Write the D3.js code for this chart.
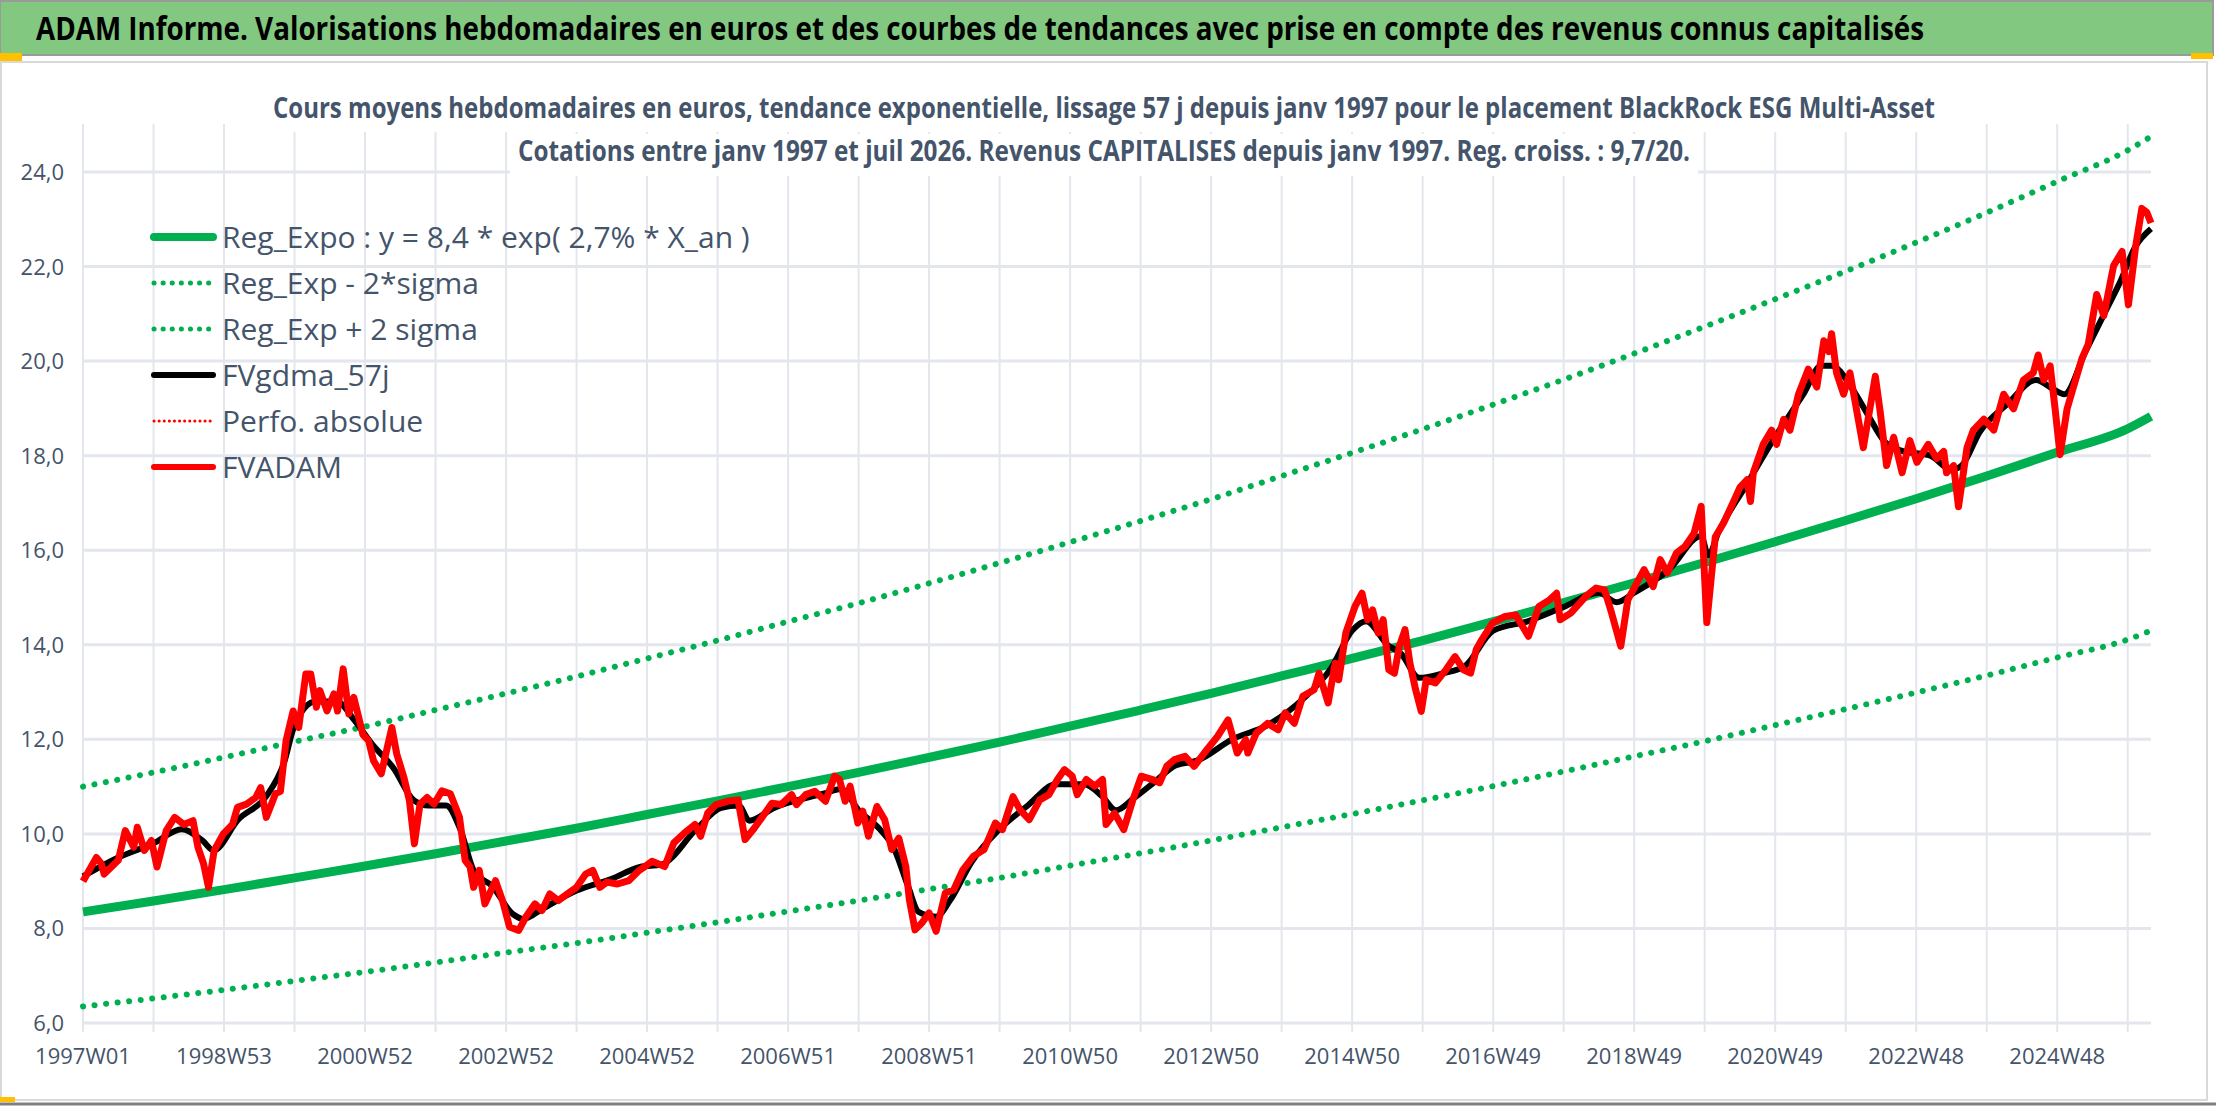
<!DOCTYPE html>
<html lang="fr">
<head>
<meta charset="utf-8">
<title>ADAM Informe</title>
<script src="https://cdn.jsdelivr.net/npm/d3@7"></script>
<style>
  body { margin: 0; background: #fff; }
  text { font-family: "Liberation Sans Narrow", "Open Sans", sans-serif; }
</style>
</head>
<body>
<script>
// x positions are decimal years, values in euros
var yTicks = [6, 8, 10, 12, 14, 16, 18, 20, 22, 24];
var xTickLabels = ["1997W01", "1998W53", "2000W52", "2002W52", "2004W52", "2006W51", "2008W51",
  "2010W50", "2012W50", "2014W50", "2016W49", "2018W49", "2020W49", "2022W48", "2024W48"];

var trendT = [1997, 1998, 1999, 2000, 2001, 2002, 2003, 2004, 2005, 2006, 2007, 2008, 2009, 2010, 2011,
  2012, 2013, 2014, 2015, 2016, 2017, 2018, 2019, 2020, 2021, 2022, 2023, 2024, 2025, 2026, 2026.33];
var regExpo = [8.35, 8.58, 8.82, 9.07, 9.32, 9.58, 9.85, 10.12, 10.41, 10.70, 11.00, 11.30, 11.62, 11.94, 12.28,
  12.62, 12.97, 13.34, 13.71, 14.09, 14.49, 14.89, 15.31, 15.74, 16.18, 16.63, 17.09, 17.57, 18.07, 18.57, 18.83];
var regHigh = [11.00, 11.30, 11.62, 11.95, 12.27, 12.62, 12.97, 13.33, 13.71, 14.09, 14.49, 14.88, 15.30, 15.73, 16.17,
  16.62, 17.08, 17.57, 18.06, 18.56, 19.08, 19.61, 20.16, 20.73, 21.31, 21.90, 22.51, 23.14, 23.80, 24.46, 24.75];
var regLow = [6.35, 6.52, 6.70, 6.89, 7.08, 7.28, 7.49, 7.69, 7.91, 8.13, 8.36, 8.59, 8.83, 9.07, 9.33,
  9.59, 9.86, 10.14, 10.42, 10.71, 11.01, 11.32, 11.64, 11.96, 12.30, 12.64, 12.99, 13.35, 13.73, 14.11, 14.30];

var fvgdmaT = [1997.0, 1997.5, 1998.0, 1998.4, 1998.7, 1998.85, 1999.2, 1999.6, 1999.85, 2000.0, 2000.3, 2000.6,
  2000.85, 2001.1, 2001.4, 2001.7, 2001.9, 2002.15, 2002.35, 2002.55, 2002.8, 2003.1, 2003.25, 2003.5, 2004.0,
  2004.5, 2004.9, 2005.2, 2005.7, 2006.05, 2006.3, 2006.45, 2006.8, 2007.5, 2007.75, 2008.0, 2008.3, 2008.5,
  2008.7, 2008.85, 2009.1, 2009.3, 2009.6, 2010.0, 2010.4, 2010.8, 2011.2, 2011.45, 2011.65, 2011.9, 2012.2,
  2012.5, 2012.8, 2013.3, 2013.8, 2014.3, 2014.7, 2015.0, 2015.2, 2015.5, 2015.7, 2015.95, 2016.3, 2016.6,
  2017.0, 2017.5, 2018.0, 2018.5, 2018.75, 2019.0, 2019.5, 2019.95, 2020.05, 2020.2, 2020.6, 2021.0, 2021.4,
  2021.65, 2021.8, 2022.1, 2022.3, 2022.55, 2022.8, 2023.2, 2023.5, 2023.65, 2023.9, 2024.3, 2024.7, 2024.95,
  2025.1, 2025.4, 2025.7, 2025.9, 2026.1, 2026.33];
var fvgdmaV = [9.1, 9.5, 9.8, 10.1, 9.85, 9.65, 10.3, 10.8, 11.5, 12.3, 12.8, 12.8,
  12.4, 11.9, 11.4, 10.7, 10.6, 10.6, 10.1, 9.2, 8.9, 8.3, 8.2, 8.4, 8.8,
  9.05, 9.3, 9.35, 10.1, 10.55, 10.6, 10.28, 10.55, 10.85, 10.95, 10.5, 10.1, 9.7,
  8.9, 8.35, 8.25, 8.6, 9.4, 10.1, 10.6, 11.05, 11.05, 10.8, 10.5, 10.75, 11.1,
  11.45, 11.55, 12.0, 12.3, 12.85, 13.5, 14.3, 14.5, 14.0, 13.8, 13.3, 13.4, 13.55,
  14.3, 14.5, 14.8, 15.1, 14.9, 15.1, 15.6, 16.3, 15.9, 16.4, 17.4, 18.4, 19.3,
  19.9, 19.9, 19.4, 18.9, 18.3, 18.1, 18.0, 17.7, 17.8, 18.5, 19.1, 19.6, 19.4,
  19.3, 20.2, 21.1, 21.7, 22.4, 22.8];

var fvadamT = [1997.0, 1997.19, 1997.26, 1997.3, 1997.5, 1997.6, 1997.72, 1997.77, 1997.87, 1997.97, 1998.05,
  1998.18, 1998.3, 1998.43, 1998.56, 1998.63, 1998.71, 1998.78, 1998.86, 1998.99, 1999.12, 1999.19, 1999.32,
  1999.45, 1999.52, 1999.6, 1999.73, 1999.8, 1999.88, 1999.98, 2000.06, 2000.16, 2000.23, 2000.31, 2000.36,
  2000.46, 2000.56, 2000.61, 2000.69, 2000.77, 2000.84, 2000.97, 2001.05, 2001.12, 2001.23, 2001.38, 2001.45,
  2001.55, 2001.63, 2001.7, 2001.78, 2001.88, 2001.98, 2002.09, 2002.21, 2002.34, 2002.42, 2002.49, 2002.54,
  2002.62, 2002.7, 2002.85, 2002.95, 2003.05, 2003.18, 2003.28, 2003.41, 2003.51, 2003.62, 2003.74, 2003.87,
  2004.0, 2004.13, 2004.23, 2004.33, 2004.43, 2004.58, 2004.74, 2004.89, 2004.97, 2005.07, 2005.25, 2005.38,
  2005.53, 2005.68, 2005.76, 2005.86, 2005.98, 2006.14, 2006.29, 2006.39, 2006.52, 2006.64, 2006.77, 2006.9,
  2007.05, 2007.12, 2007.25, 2007.38, 2007.53, 2007.66, 2007.73, 2007.81, 2007.88, 2007.99, 2008.06, 2008.14,
  2008.26, 2008.37, 2008.47, 2008.57, 2008.67, 2008.72, 2008.8, 2008.9, 2009.0, 2009.1, 2009.23, 2009.35,
  2009.48, 2009.63, 2009.78, 2009.94, 2010.04, 2010.19, 2010.29, 2010.42, 2010.57, 2010.7, 2010.82, 2010.92,
  2011.03, 2011.1, 2011.23, 2011.35, 2011.46, 2011.51, 2011.63, 2011.76, 2011.89, 2012.01, 2012.17, 2012.27,
  2012.37, 2012.48, 2012.63, 2012.76, 2012.94, 2013.09, 2013.24, 2013.37, 2013.49, 2013.52, 2013.64, 2013.8,
  2013.95, 2014.05, 2014.18, 2014.3, 2014.46, 2014.53, 2014.66, 2014.76, 2014.81, 2014.91, 2015.04, 2015.14,
  2015.22, 2015.29, 2015.37, 2015.44, 2015.52, 2015.6, 2015.67, 2015.75, 2015.82, 2015.9, 2015.98, 2016.05,
  2016.18, 2016.33, 2016.46, 2016.58, 2016.68, 2016.76, 2016.84, 2016.99, 2017.17, 2017.32, 2017.5, 2017.65,
  2017.8, 2017.9, 2017.95, 2018.1, 2018.31, 2018.46, 2018.58, 2018.68, 2018.81, 2018.91, 2019.01, 2019.14,
  2019.27, 2019.37, 2019.47, 2019.6, 2019.72, 2019.85, 2019.95, 2020.03, 2020.15, 2020.27, 2020.41, 2020.5,
  2020.6, 2020.65, 2020.69, 2020.83, 2020.95, 2021.02, 2021.12, 2021.21, 2021.33, 2021.47, 2021.59, 2021.69,
  2021.76, 2021.8, 2021.87, 2021.97, 2022.06, 2022.16, 2022.25, 2022.42, 2022.49, 2022.58, 2022.68, 2022.8,
  2022.91, 2023.01, 2023.17, 2023.29, 2023.39, 2023.43, 2023.53, 2023.6, 2023.72, 2023.81, 2023.96, 2024.1,
  2024.24, 2024.38, 2024.52, 2024.66, 2024.73, 2024.81, 2024.9, 2024.97, 2025.04, 2025.14, 2025.23, 2025.35,
  2025.44, 2025.56, 2025.66, 2025.8, 2025.92, 2026.01, 2026.11, 2026.2, 2026.27, 2026.33];
var fvadamV = [9.0, 9.5, 9.37, 9.15, 9.44, 10.07, 9.72, 10.14, 9.65, 9.86, 9.3,
  10.07, 10.35, 10.2, 10.28, 9.72, 9.37, 8.87, 9.65, 10.0, 10.2, 10.56, 10.63,
  10.77, 10.98, 10.35, 10.85, 10.9, 11.97, 12.6, 12.25, 13.38, 13.38, 12.68, 13.03,
  12.6, 12.96, 12.6, 13.49, 12.54, 12.89, 12.1, 11.97, 11.55, 11.27, 12.25, 11.69,
  11.2, 10.7, 9.79, 10.63, 10.77, 10.63, 10.91, 10.85, 10.35, 9.44, 9.3, 8.87,
  9.23, 8.52, 9.01, 8.59, 8.03, 7.96, 8.24, 8.52, 8.38, 8.73, 8.59, 8.73,
  8.87, 9.15, 9.23, 8.87, 8.98, 8.94, 9.01, 9.23, 9.31, 9.42, 9.31, 9.81,
  10.02, 10.2, 9.95, 10.44, 10.62, 10.69, 10.72, 9.88, 10.12, 10.37, 10.65, 10.62,
  10.83, 10.62, 10.83, 10.9, 10.69, 11.22, 11.15, 10.69, 11.01, 10.23, 10.48, 9.95,
  10.58, 10.3, 9.67, 9.91, 9.31, 8.61, 7.97, 8.12, 8.33, 7.94, 8.75, 8.82,
  9.24, 9.53, 9.67, 10.23, 10.09, 10.79, 10.51, 10.3, 10.72, 10.83, 11.15, 11.36,
  11.22, 10.83, 11.15, 11.01, 11.15, 10.2, 10.44, 10.09, 10.72, 11.22, 11.15, 11.08,
  11.43, 11.57, 11.64, 11.43, 11.78, 12.06, 12.41, 11.71, 11.99, 11.71, 12.13, 12.34,
  12.2, 12.56, 12.34, 12.91, 13.05, 13.4, 12.77, 13.61, 13.26, 14.25, 14.81, 15.09,
  14.53, 14.74, 14.25, 14.53, 13.47, 13.4, 13.97, 14.32, 13.61, 13.05, 12.59, 13.26,
  13.19, 13.47, 13.75, 13.47, 13.4, 13.9, 14.11, 14.46, 14.6, 14.63, 14.18, 14.81,
  14.95, 15.09, 14.53, 14.67, 15.02, 15.2, 15.16, 14.67, 13.97, 14.95, 15.23, 15.59,
  15.23, 15.8, 15.52, 15.94, 16.08, 16.36, 16.93, 14.47, 16.28, 16.58, 17.03, 17.33,
  17.49, 17.03, 17.64, 18.24, 18.54, 18.24, 18.77, 18.54, 19.3, 19.83, 19.45, 20.43,
  20.2, 20.58, 19.75, 19.3, 19.75, 18.92, 18.17, 19.68, 18.92, 17.79, 18.39, 17.64,
  18.32, 17.86, 18.24, 17.94, 18.09, 17.64, 17.79, 16.92, 18.17, 18.54, 18.77, 18.54,
  19.3, 18.99, 19.6, 19.75, 20.13, 19.6, 19.9, 18.99, 18.02, 18.99, 19.45, 20.05,
  20.36, 21.41, 20.96, 22.02, 22.32, 21.19, 22.4, 23.23, 23.15, 22.92];

var W = 2216, H = 1106;
var svg = d3.select("body").append("svg").attr("width", W).attr("height", H);

var x = d3.scaleLinear().domain([1997, 2026.33]).range([83, 2151]);
var y = d3.scaleLinear().domain([6, 24]).range([1023, 172]);

// frame
svg.append("rect").attr("x", 1).attr("y", 62).attr("width", 2206).attr("height", 1038)
  .attr("fill", "#fff").attr("stroke", "#d9d9d9").attr("stroke-width", 2);
svg.append("line").attr("x1", 0).attr("x2", W).attr("y1", 1104).attr("y2", 1104)
  .attr("stroke", "#7f7f7f").attr("stroke-width", 3);
svg.append("rect").attr("x", 0).attr("y", 1097).attr("width", 15).attr("height", 5).attr("fill", "#ffc000");

// title bar
svg.append("rect").attr("x", 0).attr("y", 1).attr("width", 2213).attr("height", 54)
  .attr("fill", "#82c880").attr("stroke", "#9a9a9a").attr("stroke-width", 2);
svg.append("rect").attr("x", 0).attr("y", 53).attr("width", 22).attr("height", 8).attr("fill", "#ffc000");
svg.append("rect").attr("x", 2191).attr("y", 53).attr("width", 22).attr("height", 6).attr("fill", "#ffc000");
svg.append("text").attr("x", 36).attr("y", 40)
  .attr("font-size", 32).attr("font-weight", "bold").attr("fill", "#000")
  .attr("textLength", 1888).attr("lengthAdjust", "spacingAndGlyphs")
  .text("ADAM Informe. Valorisations hebdomadaires en euros et des courbes de tendances avec prise en compte des revenus connus capitalisés");

// grid
var years = d3.range(1997, 2027);
svg.append("g").selectAll("line").data(years).join("line")
  .attr("x1", d => x(d)).attr("x2", d => x(d)).attr("y1", 124).attr("y2", 1032)
  .attr("stroke", "#e3e6ec").attr("stroke-width", 2);
svg.append("g").selectAll("line").data(yTicks).join("line")
  .attr("x1", 83).attr("x2", 2151).attr("y1", d => y(d)).attr("y2", d => y(d))
  .attr("stroke", "#e3e6ec").attr("stroke-width", 3);

// subtitles with white backing
var sub = ["Cours moyens hebdomadaires en euros, tendance exponentielle, lissage 57 j depuis janv 1997 pour le placement BlackRock ESG Multi-Asset",
  "Cotations entre janv 1997 et juil 2026. Revenus CAPITALISES depuis janv 1997. Reg. croiss. : 9,7/20."];
var subW = [1662, 1172];
sub.forEach(function (s, i) {
  svg.append("rect").attr("x", 1104 - subW[i] / 2 - 8).attr("y", 90 + i * 44).attr("width", subW[i] + 16)
    .attr("height", 42).attr("fill", "#fff");
  svg.append("text").attr("x", 1104).attr("y", 118 + i * 43).attr("text-anchor", "middle")
    .attr("font-size", 28).attr("font-weight", "bold").attr("fill", "#44546a")
    .attr("textLength", subW[i]).attr("lengthAdjust", "spacingAndGlyphs").text(s);
});

// axes labels
svg.append("g").selectAll("text").data(yTicks).join("text")
  .attr("x", 64).attr("y", d => y(d) + 8).attr("text-anchor", "end")
  .attr("font-size", 22).attr("fill", "#44546a").text(d => d.toFixed(1).replace(".", ","));
svg.append("g").selectAll("text").data(xTickLabels).join("text")
  .attr("x", (d, i) => x(1997 + 2 * i)).attr("y", 1064).attr("text-anchor", "middle")
  .attr("font-size", 22).attr("fill", "#44546a").text(d => d);

// series
function path(ts, vs, cls) {
  var pts = ts.map((t, i) => [t, vs[i]]);
  return d3.line().x(d => x(d[0])).y(d => y(d[1])).curve(cls)(pts);
}
var dotted = { stroke: "#00b050", width: 6, dash: "0.1 11.5" };
svg.append("path").attr("d", path(trendT, regLow, d3.curveMonotoneX)).attr("fill", "none")
  .attr("stroke", dotted.stroke).attr("stroke-width", dotted.width).attr("stroke-linecap", "round").attr("stroke-dasharray", dotted.dash);
svg.append("path").attr("d", path(trendT, regHigh, d3.curveMonotoneX)).attr("fill", "none")
  .attr("stroke", dotted.stroke).attr("stroke-width", dotted.width).attr("stroke-linecap", "round").attr("stroke-dasharray", dotted.dash);
svg.append("path").attr("d", path(trendT, regExpo, d3.curveMonotoneX)).attr("fill", "none")
  .attr("stroke", "#00b050").attr("stroke-width", 9);
svg.append("path").attr("d", path(fvgdmaT, fvgdmaV, d3.curveMonotoneX)).attr("fill", "none")
  .attr("stroke", "#000").attr("stroke-width", 6);
svg.append("path").attr("d", path(fvadamT, fvadamV, d3.curveLinear)).attr("fill", "none")
  .attr("stroke", "#ff0000").attr("stroke-width", 7).attr("stroke-linejoin", "round");

// legend
var legend = [
  { t: "Reg_Expo : y = 8,4 * exp( 2,7% *  X_an )", c: "#00b050", w: 8, d: null },
  { t: "Reg_Exp - 2*sigma", c: "#00b050", w: 5, d: "0.1 9" },
  { t: "Reg_Exp + 2 sigma", c: "#00b050", w: 5, d: "0.1 9" },
  { t: "FVgdma_57j", c: "#000", w: 6, d: null },
  { t: "Perfo. absolue", c: "#ff0000", w: 3, d: "0.1 5" },
  { t: "FVADAM", c: "#ff0000", w: 6, d: null }
];
var lg = svg.append("g").selectAll("g").data(legend).join("g")
  .attr("transform", (d, i) => "translate(0," + (237 + i * 46) + ")");
lg.append("line").attr("x1", 154).attr("x2", 213).attr("y1", 0).attr("y2", 0)
  .attr("stroke", d => d.c).attr("stroke-width", d => d.w).attr("stroke-linecap", "round")
  .attr("stroke-dasharray", d => d.d);
lg.append("text").attr("x", 222).attr("y", 11).attr("font-size", 30).attr("fill", "#44546a").text(d => d.t);
</script>
</body>
</html>
